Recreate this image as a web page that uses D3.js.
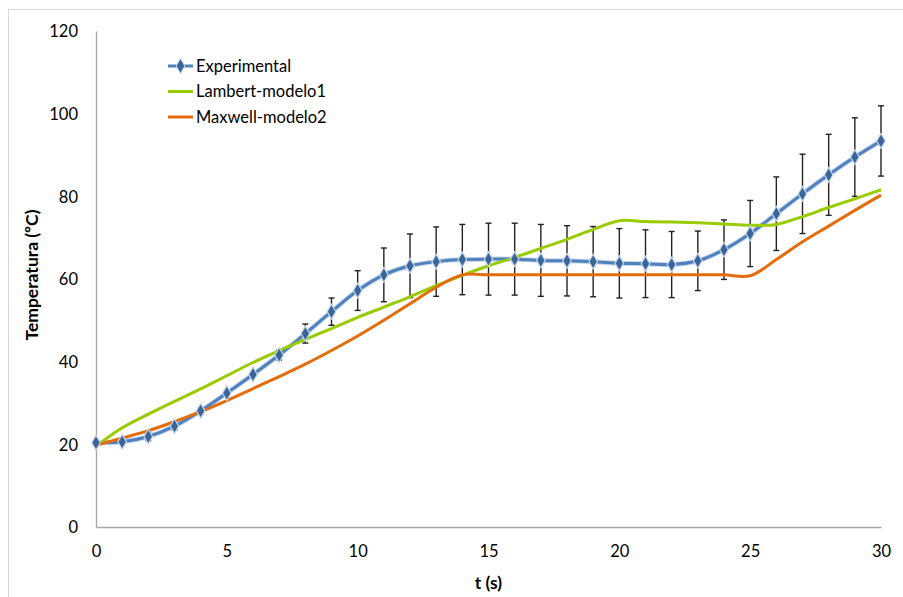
<!DOCTYPE html>
<html>
<head>
<meta charset="utf-8">
<script src="https://cdn.jsdelivr.net/npm/d3@7"></script>
<style>
  html, body { margin: 0; padding: 0; background: #fff; }
  svg { display: block; }
  text { font-family: Lato, "Open Sans", sans-serif; fill: #000; }
</style>
</head>
<body>
<svg id="chart" width="903" height="597"></svg>
<script>
// ---- data ----
const timeS = [0,1,2,3,4,5,6,7,8,9,10,11,12,13,14,15,16,17,18,19,20,21,22,23,24,25,26,27,28,29,30];
const experimental = [20.4,20.6,21.9,24.4,28.1,32.4,36.9,41.6,46.8,52.1,57.2,61.0,63.2,64.2,64.7,64.8,64.8,64.5,64.4,64.2,63.8,63.7,63.5,64.4,67.1,71.0,75.8,80.6,85.2,89.5,93.4];
const experimentalErr = [0.3,0.3,1.0,1.0,0.7,0.5,0.5,1.2,2.3,3.3,4.8,6.5,7.7,8.4,8.5,8.7,8.7,8.7,8.5,8.5,8.4,8.2,8.0,7.2,7.2,8.0,8.9,9.6,9.8,9.5,8.5];
const lambertModelo1 = [19.5,24.0,27.3,30.4,33.4,36.6,39.8,42.7,45.4,48.0,50.7,53.2,55.7,58.4,60.9,63.2,65.2,67.4,69.6,72.0,74.1,73.9,73.8,73.6,73.3,73.0,73.2,75.1,77.3,79.4,81.6];
const maxwellModelo2 = [19.8,21.5,23.3,25.5,27.9,30.6,33.5,36.4,39.4,42.7,46.2,50.0,54.0,58.0,61.0,61.0,61.0,61.0,61.0,61.0,61.0,61.0,61.0,61.0,61.0,60.8,64.7,69.0,72.8,76.6,80.3];
const seriesNames = ["Experimental", "Lambert-modelo1", "Maxwell-modelo2"];
const xTicks = [0,5,10,15,20,25,30];
const yTicks = [0,20,40,60,80,100,120];
const xTitle = "t (s)";
const yTitle = "Temperatura (ºC)";

// ---- layout ----
const svg = d3.select("#chart");
const plot = { left: 96, right: 881, top: 31, bottom: 527 };
const colors = { exp: "#4f81bd", expMarker: "#3a6598", lam: "#99cc00", max: "#e46c0a", axis: "#a6a6a6" };

const x = d3.scaleLinear().domain([0, 30]).range([plot.left, plot.right]);
const y = d3.scaleLinear().domain([0, 120]).range([plot.bottom, plot.top]);

// outer chart border
svg.append("rect").attr("x", 8.5).attr("y", 9.5).attr("width", 1000).attr("height", 1000)
  .attr("fill", "none").attr("stroke", "#d9d9d9").attr("stroke-width", 1);

// axes
const yAxis = d3.axisLeft(y).tickValues(yTicks).tickSize(0).tickPadding(18);
const xAxis = d3.axisBottom(x).tickValues(xTicks).tickSize(0).tickPadding(18);

const gy = svg.append("g").attr("transform", `translate(${plot.left},0)`).call(yAxis);
const gx = svg.append("g").attr("transform", `translate(0,${plot.bottom})`).call(xAxis);
[gx, gy].forEach(g => {
  g.select(".domain").attr("stroke", colors.axis).attr("stroke-width", 1.3);
  g.selectAll("text").attr("font-family", "Lato, sans-serif").attr("font-size", "16.5px").attr("fill", "#000");
});
gy.selectAll("text").attr("dy", "0.35em");

// axis titles
svg.append("text").attr("x", (plot.left + plot.right) / 2).attr("y", 589)
  .attr("text-anchor", "middle").attr("font-weight", "bold").attr("font-size", "17.5px").text(xTitle);
svg.append("text").attr("transform", `translate(38,${(plot.top + plot.bottom) / 2 - 4}) rotate(-90)`)
  .attr("text-anchor", "middle").attr("font-weight", "bold").attr("font-size", "17.5px").text(yTitle);

// data rows
const rows = timeS.map((t, i) => ({ t, e: experimental[i], err: experimentalErr[i], l: lambertModelo1[i], m: maxwellModelo2[i] }));

// error bars
const eb = svg.append("g");
rows.forEach(d => {
  const x0 = x(d.t), yt = y(d.e + d.err), yb = y(d.e - d.err);
  eb.append("line").attr("x1", x0).attr("x2", x0).attr("y1", yt).attr("y2", yb).attr("stroke", "#222").attr("stroke-width", 1.4);
  eb.append("line").attr("x1", x0 - 3).attr("x2", x0 + 3).attr("y1", yt).attr("y2", yt).attr("stroke", "#222").attr("stroke-width", 1.4);
  eb.append("line").attr("x1", x0 - 3).attr("x2", x0 + 3).attr("y1", yb).attr("y2", yb).attr("stroke", "#222").attr("stroke-width", 1.4);
});

const curve = d3.curveCatmullRom.alpha(0.5);
const lineOf = key => d3.line().x(d => x(d.t)).y(d => y(d[key])).curve(curve);

// experimental line with halo
svg.append("path").datum(rows).attr("d", lineOf("e")).attr("fill", "none")
  .attr("stroke", "#c6d6ea").attr("stroke-width", 5);
svg.append("path").datum(rows).attr("d", lineOf("e")).attr("fill", "none")
  .attr("stroke", colors.exp).attr("stroke-width", 3);

// models
svg.append("path").datum(rows).attr("d", lineOf("l")).attr("fill", "none")
  .attr("stroke", colors.lam).attr("stroke-width", 3);
svg.append("path").datum(rows).attr("d", lineOf("m")).attr("fill", "none")
  .attr("stroke", colors.max).attr("stroke-width", 3);

// markers
const diamond = d3.symbol().type(d3.symbolDiamond).size(64);
svg.append("g").selectAll("path").data(rows).join("path")
  .attr("transform", d => `translate(${x(d.t)},${y(d.e)})`)
  .attr("d", diamond).attr("fill", colors.expMarker).attr("stroke", "#c6d6ea").attr("stroke-width", 1.2);

// legend
const legend = svg.append("g").attr("transform", "translate(168,0)");
const legendY = [66, 91.5, 117];
const legendColors = [colors.exp, colors.lam, colors.max];
seriesNames.forEach((name, i) => {
  legend.append("line").attr("x1", 0).attr("x2", 25).attr("y1", legendY[i]).attr("y2", legendY[i])
    .attr("stroke", legendColors[i]).attr("stroke-width", 3);
  if (i === 0) {
    legend.append("path").attr("transform", `translate(12.5,${legendY[i]})`).attr("d", diamond)
      .attr("fill", colors.expMarker).attr("stroke", "#c6d6ea").attr("stroke-width", 1);
  }
  legend.append("text").attr("x", 28).attr("y", legendY[i]).attr("dy", "0.35em")
    .attr("font-size", "16.5px").text(name);
});
</script>
</body>
</html>
